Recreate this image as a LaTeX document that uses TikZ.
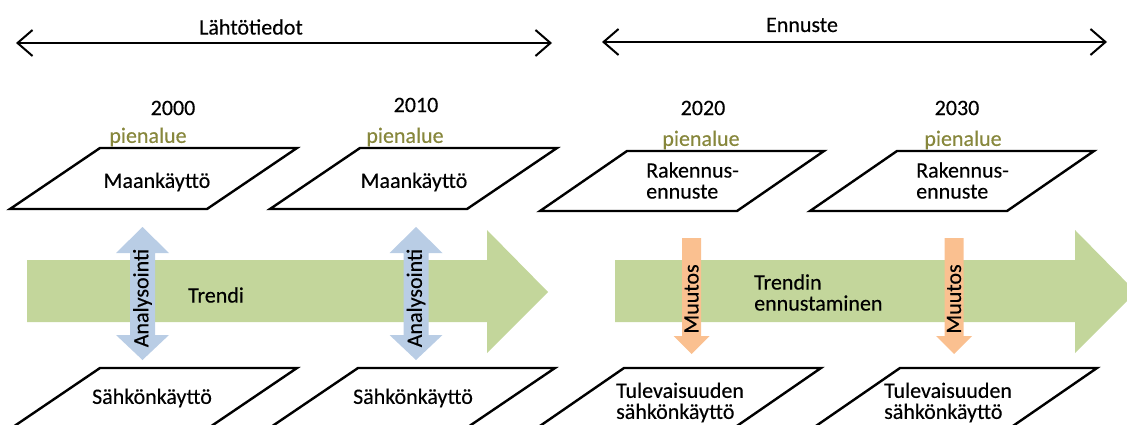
\documentclass[tikz,border=0pt]{standalone}
\usepackage{fontspec}
\setmainfont{Carlito}
\newfontfamily\lblfont{Carlito}[FakeBold=0.3]
\usetikzlibrary{arrows.meta}

\definecolor{trendgreen}{HTML}{C3D69B}
\definecolor{analblue}{HTML}{B9CDE5}
\definecolor{changeorange}{HTML}{FAC090}
\definecolor{areaolive}{RGB}{135,135,60}

\tikzset{
  lbl/.style={font=\lblfont\fontsize{22}{21}\selectfont, inner sep=0pt, text=black},
  lbltwo/.style={lbl, align=left, anchor=west},
  area/.style={lbl, text=areaolive},
  plane/.style={draw=black, line width=2.4pt, fill=white, line join=miter},
  span/.style={line width=2pt,
    {Straight Barb[length=15pt,width=26pt,line width=2pt]}-{Straight Barb[length=15pt,width=26pt,line width=2pt]}},
  trendarrow/.style={fill=trendgreen, draw=none},
  analarrow/.style={fill=analblue, draw=none},
  changearrow/.style={fill=changeorange, draw=none},
}

% parallelogram: top-left corner, top width 197, slant #3, height #4
\newcommand\planeat[4]{%
  \draw[plane] (#1,#2) -- ++(197,0) -- ++(-#3,#4) -- ++(-197,0) -- cycle;}

\begin{document}
\begin{tikzpicture}[x=1pt,y=-1pt]
\useasboundingbox (0,0) rectangle (1127,425);
\clip (0,0) rectangle (1127,425);

% period spans
\coordinate (histL) at (16,43);
\coordinate (histR) at (552,43);
\coordinate (foreL) at (602,42);
\coordinate (foreR) at (1107,42);
\draw[span] (histL) -- (histR);
\draw[span] (foreL) -- (foreR);
\node[lbl] (hist) at (251,27) {Lähtötiedot};
\node[lbl] (fore) at (802,25) {Ennuste};

% years and area labels
\node[lbl] (y2000) at (173,108) {2000};
\node[lbl] (y2010) at (416,105) {2010};
\node[lbl] (y2020) at (703,108) {2020};
\node[lbl] (y2030) at (957,108) {2030};
\node[area] (a2000) at (148,137) {pienalue};
\node[area] (a2010) at (405,137) {pienalue};
\node[area] (a2020) at (701,140) {pienalue};
\node[area] (a2030) at (963,140) {pienalue};

% upper planes
\planeat{100}{148}{90}{61}
\planeat{360}{148}{90}{61}
\planeat{627}{151}{87}{60}
\planeat{897}{151}{87}{60}
\node[lbl] (land2000) at (157,182) {Maankäyttö};
\node[lbl] (land2010) at (414,182) {Maankäyttö};
\node[lbltwo] (build2020) at (646,180.5) {Rakennus-\\ennuste};
\node[lbltwo] (build2030) at (916,180.5) {Rakennus-\\ennuste};

% trend arrows
\fill[trendarrow] (27,260) -- (487,260) -- (487,230) -- (548,292) -- (487,353) -- (487,322) -- (27,322) -- cycle;
\fill[trendarrow] (615,260) -- (1075,260) -- (1075,230) -- (1136,292) -- (1075,353) -- (1075,322) -- (615,322) -- cycle;
\node[lbl] (trend) at (216,295) {Trendi};
\node[lbltwo] (trendfc) at (754,292.5) {Trendin\\ennustaminen};

% analysis double arrows
\foreach \cx/\nm in {142.5/an1, 416/an2}{
  \fill[analarrow] (\cx,227) -- (\cx+26.5,253) -- (\cx+12.5,253) -- (\cx+12.5,335)
    -- (\cx+26.5,335) -- (\cx,360) -- (\cx-26.5,335) -- (\cx-12.5,335)
    -- (\cx-12.5,253) -- (\cx-26.5,253) -- cycle;
  \node[lbl, rotate=90] (\nm) at (\cx,298) {Analysointi};
}

% change arrows
\foreach \cx/\nm in {691.5/ch1, 954/ch2}{
  \fill[changearrow] (\cx-9.5,238) -- (\cx+9.5,238) -- (\cx+9.5,336) -- (\cx+18,336)
    -- (\cx,354) -- (\cx-18,336) -- (\cx-9.5,336) -- cycle;
  \node[lbl, rotate=90] (\nm) at (\cx,299) {Muutos};
}

% lower planes
\planeat{100}{368}{90}{61}
\planeat{358}{368}{90}{61}
\planeat{624}{368}{87}{60}
\planeat{900}{368}{87}{60}
\node[lbl] (el2000) at (152,398) {Sähkönkäyttö};
\node[lbl] (el2010) at (413,398) {Sähkönkäyttö};
\node[lbltwo] (el2020) at (616,402.5) {Tulevaisuuden\\sähkönkäyttö};
\node[lbltwo] (el2030) at (884,402.5) {Tulevaisuuden\\sähkönkäyttö};
\end{tikzpicture}
\end{document}
